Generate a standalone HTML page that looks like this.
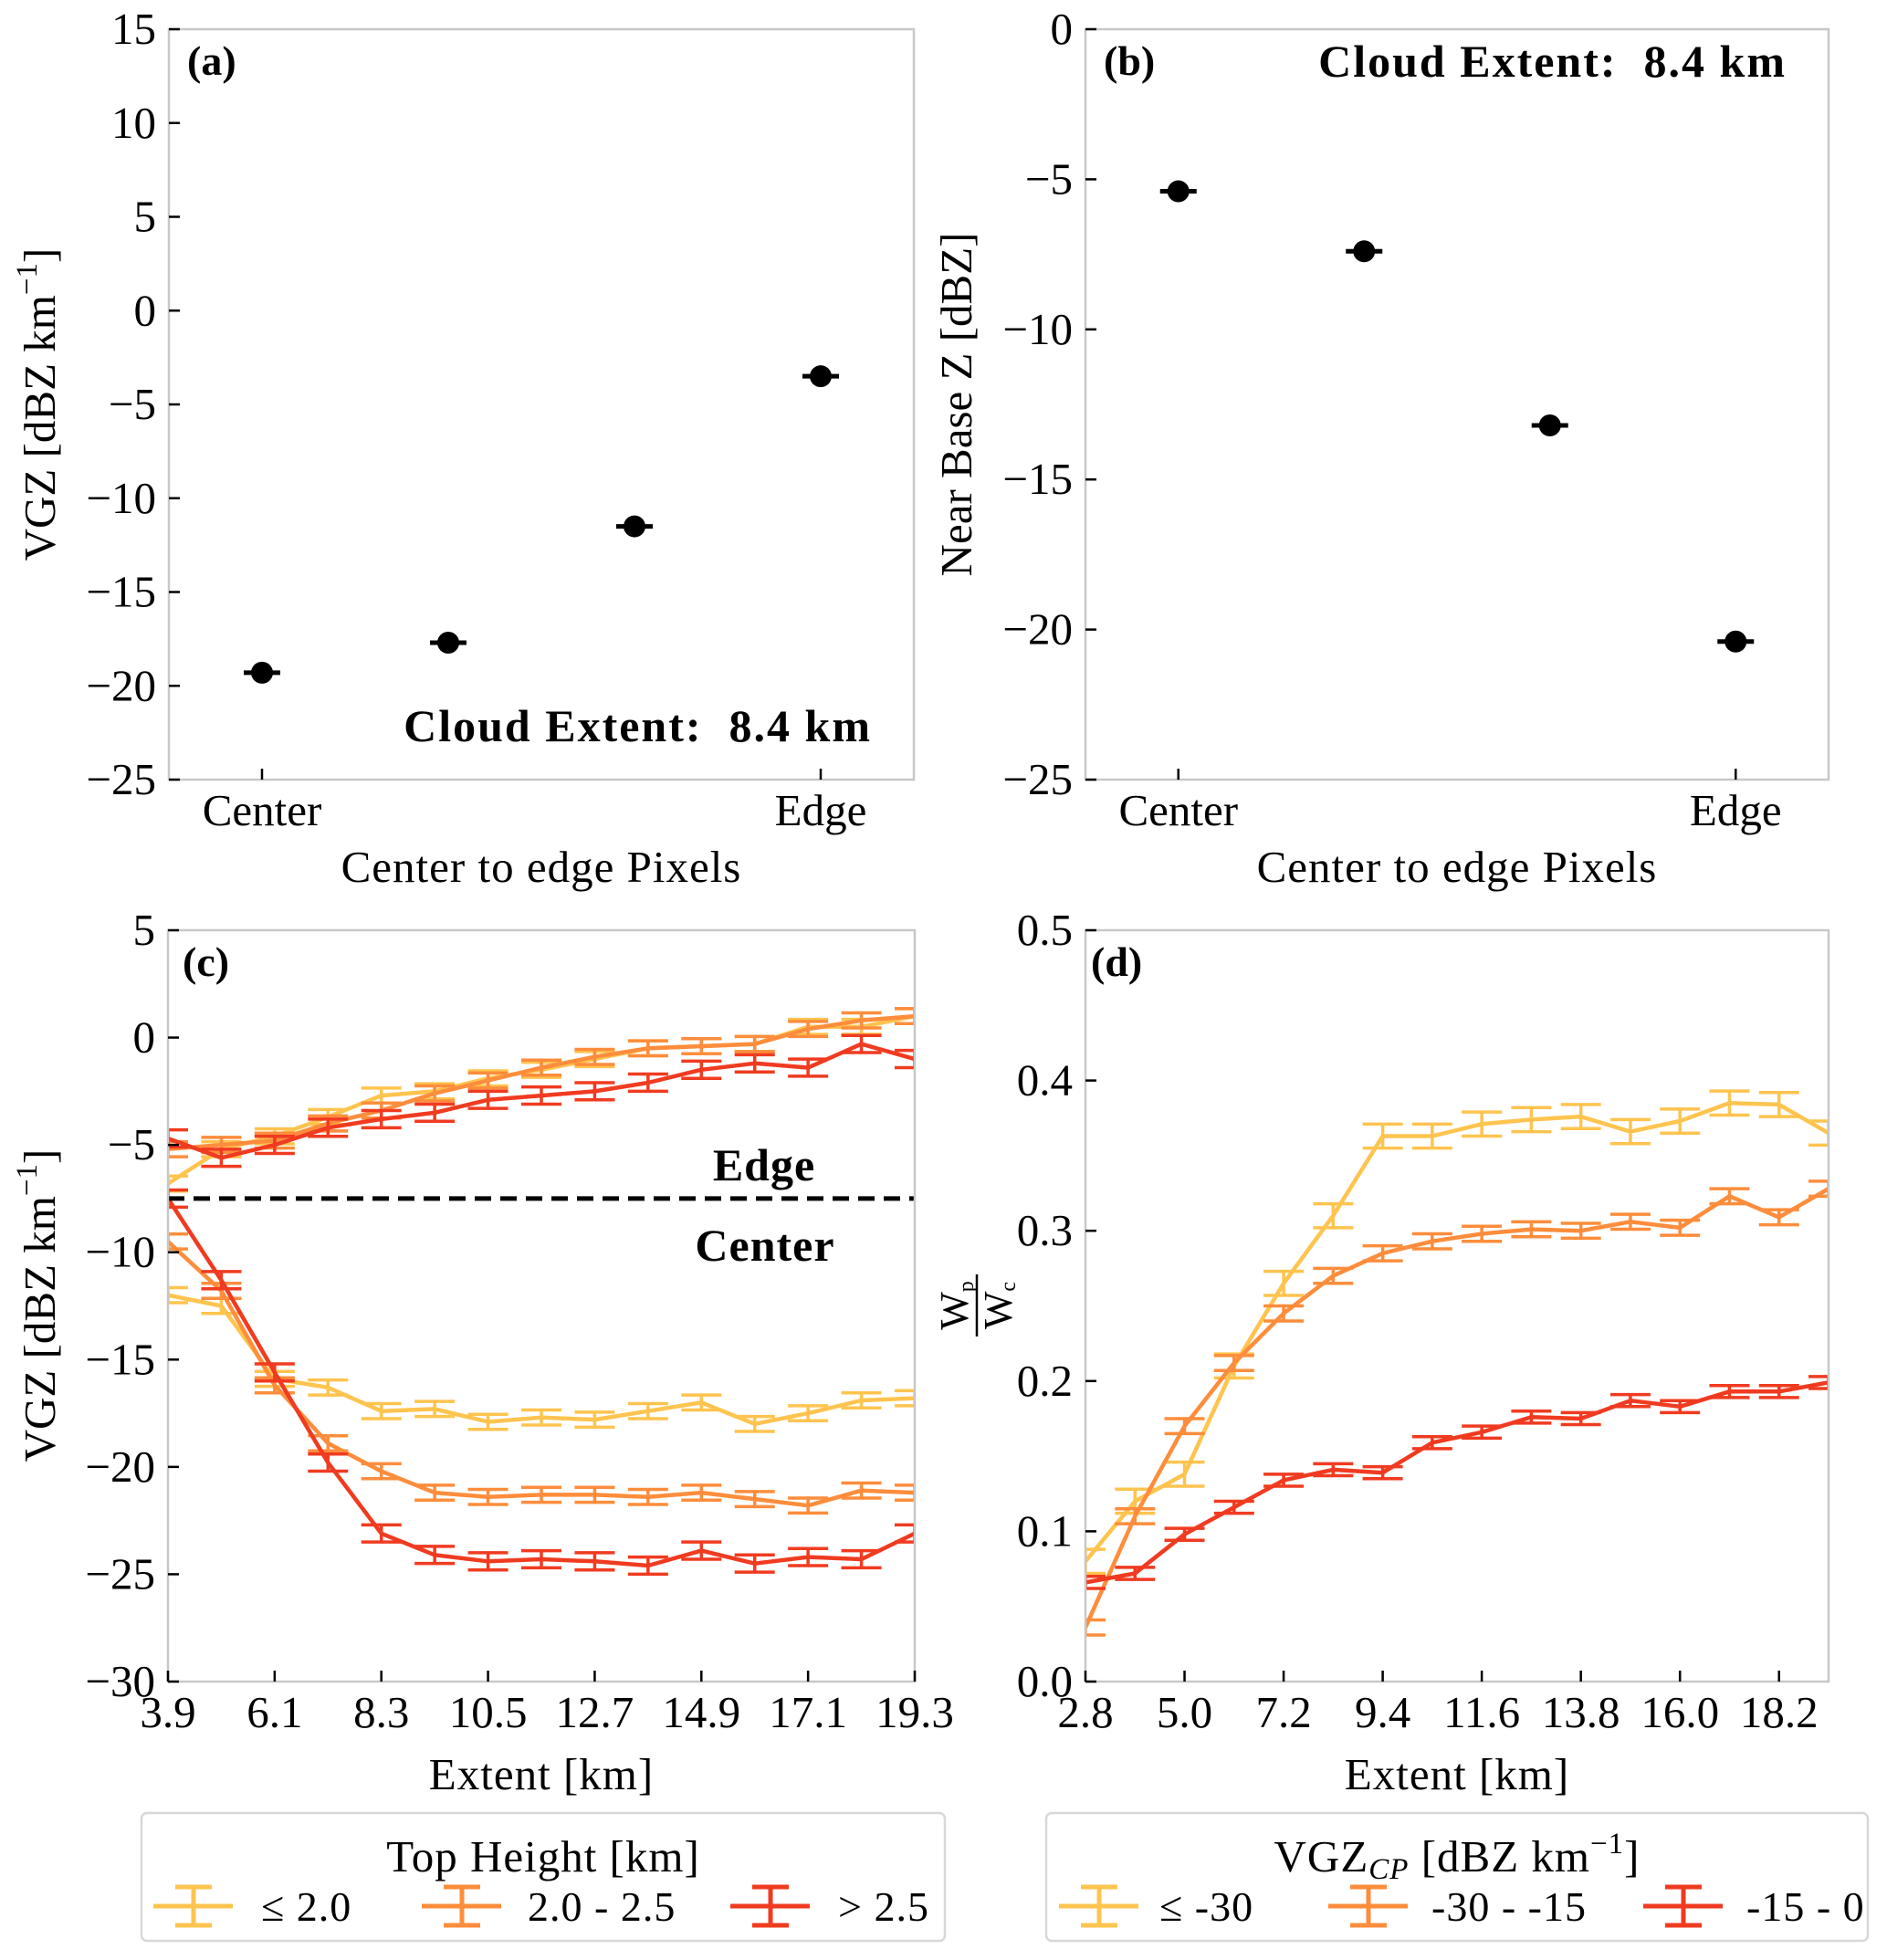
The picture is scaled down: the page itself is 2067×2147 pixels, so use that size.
<!DOCTYPE html>
<html><head><meta charset="utf-8"><style>
html,body{margin:0;padding:0;background:#fff}
svg{display:block}
text{font-family:"Liberation Serif",serif;fill:#000}
</style></head><body>
<svg id="fig" xmlns="http://www.w3.org/2000/svg" width="2067" height="2147" viewBox="0 0 2067 2147"></svg>
<script>
// ---- data ----
const aCategories = ["Center","","","Edge"];
const aValues = [-19.3, -17.7, -11.5, -3.5];
const bValues = [-5.4, -7.4, -13.2, -20.4];
const aTicks = [15,10,5,0,-5,-10,-15,-20,-25];
const bTicks = [0,-5,-10,-15,-20,-25];

const cExtent = [3.9,5.0,6.1,7.2,8.3,9.4,10.5,11.6,12.7,13.8,14.9,16.0,17.1,18.2,19.3];
const cTickLabels = ["3.9","6.1","8.3","10.5","12.7","14.9","17.1","19.3"];
const cYTicks = [5,0,-5,-10,-15,-20,-25,-30];
const cEdgeLow = [-6.8,-5.2,-4.6,-3.7,-2.7,-2.5,-1.9,-1.5,-1.0,-0.5,-0.4,-0.3,0.5,0.5,1.0];
const cEdgeMid = [-5.2,-5.0,-4.8,-4.0,-3.4,-2.6,-2.0,-1.4,-0.9,-0.5,-0.4,-0.3,0.4,0.8,1.0];
const cEdgeHigh = [-4.7,-5.6,-5.0,-4.2,-3.8,-3.5,-2.9,-2.7,-2.5,-2.1,-1.5,-1.2,-1.4,-0.3,-1.0];
const cCenterLow = [-12.0,-12.5,-15.9,-16.3,-17.4,-17.3,-17.9,-17.7,-17.8,-17.4,-17.0,-18.0,-17.5,-16.9,-16.8];
const cCenterMid = [-9.5,-11.8,-16.2,-18.9,-20.2,-21.2,-21.4,-21.3,-21.3,-21.4,-21.2,-21.5,-21.8,-21.1,-21.2];
const cCenterHigh = [-7.5,-11.3,-15.6,-19.8,-23.1,-24.1,-24.4,-24.3,-24.4,-24.6,-23.9,-24.5,-24.2,-24.3,-23.1];
const cThreshold = -7.5;

const dExtent = [2.8,3.9,5.0,6.1,7.2,8.3,9.4,10.5,11.6,12.7,13.8,14.9,16.0,17.1,18.2,19.3];
const dTickLabels = ["2.8","5.0","7.2","9.4","11.6","13.8","16.0","18.2"];
const dYTicks = [0.5,0.4,0.3,0.2,0.1,0.0];
const dLow = [0.08,0.12,0.138,0.21,0.265,0.31,0.363,0.363,0.371,0.374,0.376,0.366,0.373,0.385,0.384,0.365];
const dMid = [0.036,0.11,0.17,0.212,0.245,0.27,0.285,0.293,0.298,0.301,0.300,0.306,0.302,0.323,0.309,0.328];
const dHigh = [0.066,0.072,0.098,0.116,0.134,0.141,0.139,0.159,0.166,0.176,0.175,0.187,0.183,0.193,0.193,0.199];

const COLORS = ["#fec44f","#fd8d3c","#f03b20"];
const NS = "http://www.w3.org/2000/svg";
const svg = document.getElementById("fig");
const FS = 49;
function el(tag, attrs, parent, txt){
  const e = document.createElementNS(NS, tag);
  for (const k in attrs) e.setAttribute(k, attrs[k]);
  if (txt !== undefined) e.textContent = txt;
  (parent||svg).appendChild(e);
  return e;
}
function lin(d0,d1,r0,r1){return v => r0 + (v-d0)/(d1-d0)*(r1-r0);}

function frame(g,L,T,R,B){
  const r = el("rect",{x:L,y:T,width:R-L,height:B-T,fill:"none",stroke:"#c8c8c8","stroke-width":2.5},g);
  
  
}
function yAxis(g, ticks, ys, L, fmt){
  ticks.forEach(t=>{
    const y = ys(t);
    el("line",{x1:L,x2:L+12,y1:y,y2:y,stroke:"#000","stroke-width":2.5},g);
    const tx = el("text",{x:L-14,y:y+16,"font-size":FS,"text-anchor":"end"},g, fmt(t));
    
    
  });
}
function xAxis(g, labels, xs, B){
  labels.forEach(l=>{
    const x = xs(parseFloat(l));
    el("line",{x1:x,x2:x,y1:B,y2:B-12,stroke:"#000","stroke-width":2.5},g);
    const tx = el("text",{x:x,y:B+50,"font-size":FS,"text-anchor":"middle"},g,l);
    
    
  });
}
const fmtInt = t => (t<0?"\u2212"+Math.abs(t):""+t);

// ---- panels a and b ----
function scatterPanel(name, L, R, vals, ticks, ymax, ymin, letter, textTop){
  const g = el("g",{});
  
  
  const T=32,B=854;
  const xs = lin(-0.5,3.5,L,R), ys = lin(ymax,ymin,T,B);
  frame(g,L,T,R,B);
  yAxis(g,ticks,ys,L,fmtInt);
  aCategories.forEach((c,i)=>{
    const x=xs(i);
    if(c){
      el("line",{x1:x,x2:x,y1:B,y2:B-12,stroke:"#000","stroke-width":2.5},g);
      const t=el("text",{x:x,y:B+50,"font-size":FS,"text-anchor":"middle"},g,c);
      
      }
  });
  vals.forEach((v,i)=>{
    const x=xs(i), y=ys(v);
    const ln = el("line",{x1:x-20,x2:x+20,y1:y,y2:y,stroke:"#000","stroke-width":5},g);
    
    
    const c = el("circle",{cx:x,cy:y,r:12,fill:"#000"},g);
    
    
  });
  const lt = el("text",{x:L+20,y:T+50,"font-size":46,"font-weight":"bold"},g,letter);
  
  
  const ct = el("text",{x:R-46,y:textTop?T+52:B-42,"font-size":50,"font-weight":"bold","text-anchor":"end","letter-spacing":"2"},g,"Cloud Extent:\u00a0 8.4 km");
  
  
  const xl = el("text",{x:(L+R)/2,y:966,"font-size":FS,"text-anchor":"middle","letter-spacing":"1"},g,"Center to edge Pixels");
  
  
  return {g,T,B};
}
const pa = scatterPanel("panel-a",185,1001,aValues,aTicks,15,-25,"(a)",false);
const ya = el("text",{x:0,y:0,"font-size":FS,"text-anchor":"middle",transform:"translate(60,443) rotate(-90)"},pa.g);


ya.innerHTML = 'VGZ [dBZ km<tspan dy="-20" font-size="33">\u22121</tspan><tspan dy="20">]</tspan>';
const pb = scatterPanel("panel-b",1189,2003,bValues,bTicks,0,-25,"(b)",true);
const yb = el("text",{x:0,y:0,"font-size":FS,"text-anchor":"middle",transform:"translate(1064,443) rotate(-90)"},pb.g,"Near Base Z [dBZ]");



// ---- line panels ----
function series(g, xsArr, vals, xs, ys, color, err, name){
  const sg = el("g",{},g);
  
  
  const pts = xsArr.map((x,i)=>xs(x).toFixed(1)+","+ys(vals[i]).toFixed(1)).join(" ");
  el("polyline",{points:pts,fill:"none",stroke:color,"stroke-width":4.5,"stroke-linejoin":"round"},sg);
  xsArr.forEach((x,i)=>{
    const X=xs(x), y1=ys(vals[i]+err), y2=ys(vals[i]-err);
    const e = el("path",{d:`M${X-22},${y1}H${X+22}M${X-22},${y2}H${X+22}M${X},${y1}V${y2}`,stroke:color,"stroke-width":3.5,fill:"none"},sg);
    
    
  });
}
// panel c
(function(){
  const g = el("g",{});
  
  
  const L=184,R=1002,T=1019,B=1842;
  const xs=lin(3.9,19.3,L,R), ys=lin(5,-30,T,B);
  const clip = el("clipPath",{id:"clipc"},g); el("rect",{x:L,y:T,width:R-L,height:B-T},clip);
  const inner = el("g",{"clip-path":"url(#clipc)"},g);
  const errs=[0.35,0.35,0.4];
  [[cEdgeLow,cCenterLow],[cEdgeMid,cCenterMid],[cEdgeHigh,cCenterHigh]].forEach((p,k)=>{
    series(inner,cExtent,p[0],xs,ys,COLORS[k],errs[k],"edge-series-"+k);
    series(inner,cExtent,p[1],xs,ys,COLORS[k],errs[k],"center-series-"+k);
  });
  const dl = el("line",{x1:L,x2:R,y1:ys(cThreshold),y2:ys(cThreshold),stroke:"#000","stroke-width":5,"stroke-dasharray":"18,10"},g);
  
  
  const et = el("text",{x:837,y:ys(cThreshold)-20,"font-size":50,"font-weight":"bold","text-anchor":"middle","letter-spacing":"1"},g,"Edge");
   
  const ctt = el("text",{x:838,y:ys(cThreshold)+68,"font-size":50,"font-weight":"bold","text-anchor":"middle","letter-spacing":"1"},g,"Center");
   
  frame(g,L,T,R,B);
  yAxis(g,cYTicks,ys,L,fmtInt);
  xAxis(g,cTickLabels,xs,B);
  const lt = el("text",{x:L+16,y:T+50,"font-size":46,"font-weight":"bold"},g,"(c)");
   
  const xl = el("text",{x:(L+R)/2,y:1960,"font-size":FS,"text-anchor":"middle","letter-spacing":"1"},g,"Extent [km]");
   
  const yl = el("text",{x:0,y:0,"font-size":FS,"text-anchor":"middle",transform:"translate(60,1430) rotate(-90)"},g);
   
  yl.innerHTML = 'VGZ [dBZ km<tspan dy="-20" font-size="33">\u22121</tspan><tspan dy="20">]</tspan>';
})();
// panel d
(function(){
  const g = el("g",{});
  
  
  const L=1189,R=2003,T=1019,B=1842;
  const xs=lin(2.8,19.3,L,R), ys=lin(0.5,0,T,B);
  const clip = el("clipPath",{id:"clipd"},g); el("rect",{x:L,y:T,width:R-L,height:B-T},clip);
  const inner = el("g",{"clip-path":"url(#clipd)"},g);
  series(inner,dExtent,dLow,xs,ys,COLORS[0],0.008,"series-le-30");
  series(inner,dExtent,dMid,xs,ys,COLORS[1],0.005,"series-30-15");
  series(inner,dExtent,dHigh,xs,ys,COLORS[2],0.004,"series-15-0");
  frame(g,L,T,R,B);
  yAxis(g,dYTicks,ys,L,t=>t.toFixed(1));
  xAxis(g,dTickLabels,xs,B);
  const lt = el("text",{x:L+6,y:T+50,"font-size":46,"font-weight":"bold"},g,"(d)");
   
  const xl = el("text",{x:(L+R)/2,y:1960,"font-size":FS,"text-anchor":"middle","letter-spacing":"1"},g,"Extent [km]");
   
  const yl = el("g",{transform:"translate(1068,1430) rotate(-90)"},g);
   
  el("text",{x:0,y:-8,"font-size":44,"text-anchor":"middle"},yl).innerHTML='W<tspan font-size="24" dy="6">p</tspan>';
  el("line",{x1:-34,x2:34,y1:2,y2:2,stroke:"#000","stroke-width":2.5},yl);
  el("text",{x:0,y:40,"font-size":44,"text-anchor":"middle"},yl).innerHTML='W<tspan font-size="24" dy="4">c</tspan>';
})();

// ---- legends ----
function legend(name,L,R,title,entries){
  const g = el("g",{});
  
  
  el("rect",{x:L,y:1986,width:R-L,height:140,rx:6,fill:"#fff",stroke:"#d8d8d8","stroke-width":2.5},g);
  const t = el("text",{x:(L+R)/2,y:2050,"font-size":FS,"text-anchor":"middle","letter-spacing":"1"},g);
  t.innerHTML = title;
   
  entries.forEach((e,k)=>{
    const eg = el("g",{},g);
    
    
    const x0=e[0], y=2088;
    el("path",{d:`M${x0},${y}H${x0+87}M${x0+24},${y-21}H${x0+64}M${x0+24},${y+21}H${x0+64}M${x0+44},${y-21}V${y+21}`,stroke:COLORS[k],"stroke-width":5,fill:"none"},eg);
    el("text",{x:e[1],y:y+16,"font-size":46,"letter-spacing":"1"},eg,e[2]);
  });
}
legend("legend-top-height",155,1035,"Top Height [km]",[[168,286,"\u2264 2.0"],[462,578,"2.0 - 2.5"],[800,918,"> 2.5"]]);
legend("legend-vgz-cp",1146,2046,'VGZ<tspan font-size="33" font-style="italic" dy="8">CP</tspan><tspan dy="-8"> [dBZ km</tspan><tspan font-size="33" dy="-20">\u22121</tspan><tspan dy="20">]</tspan>',[[1160,1270,"\u2264 -30"],[1455,1568,"-30 - -15"],[1800,1913,"-15 - 0"]]);
</script>
</body></html>
